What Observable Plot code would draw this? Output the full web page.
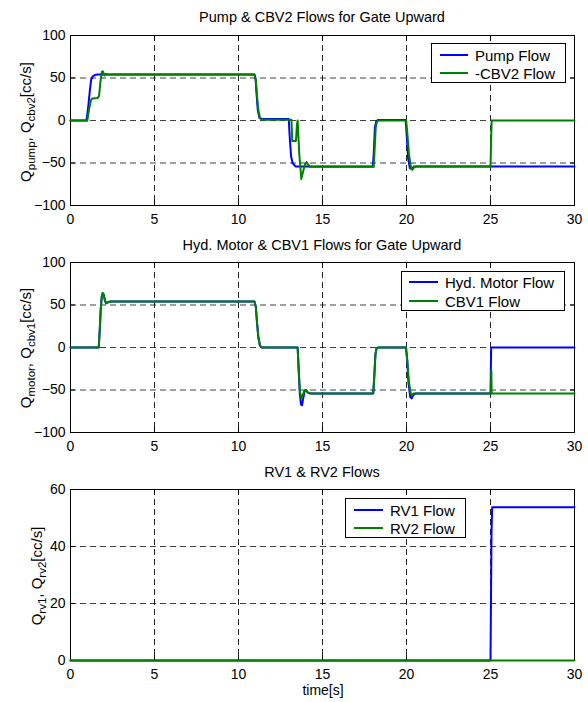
<!DOCTYPE html>
<html>
<head>
<meta charset="utf-8">
<script src="https://cdn.jsdelivr.net/npm/d3@7"></script>
<script src="https://cdn.jsdelivr.net/npm/@observablehq/plot@0.6"></script>
<style>
  html, body { margin: 0; padding: 0; background: #fff; }
  #chart { position: relative; width: 588px; height: 702px; font-family: "Liberation Sans", Arial, sans-serif; color: #000; }
  .panel { position: absolute; left: 0; }
  .title { position: absolute; font-size: 14.5px; white-space: nowrap; transform: translate(-50%, -50%); }
  .xlab { position: absolute; font-size: 14px; white-space: nowrap; transform: translate(-50%, -50%); }
  .ylab { position: absolute; font-size: 15px; white-space: nowrap; transform: translate(-50%, -50%) rotate(-90deg); }
  .ylab sub { font-size: 11.5px; vertical-align: -4px; line-height: 0; }
  .legend { position: absolute; border: 1px solid #000; background: #fff; box-sizing: border-box; }
  .legend .sw { position: absolute; height: 2px; }
  .legend .lt { position: absolute; font-size: 15px; white-space: nowrap; transform: translateY(-50%); }
</style>
</head>
<body>
<div id="chart"></div>
<script>
// ---------- data (time [s], flow [cc/s]) ----------
const xTicks = [0, 5, 10, 15, 20, 25, 30];
const yTicksFlow = [-100, -50, 0, 50, 100];
const yTicksRV = [0, 20, 40, 60];

const titles = ["Pump & CBV2 Flows for Gate Upward", "Hyd. Motor & CBV1 Flows for Gate Upward", "RV1 & RV2 Flows"];

const pumpFlow = [[0,0],[0.95,0],[1.05,15],[1.15,35],[1.23,48],[1.32,52],[1.45,53.5],[1.6,54],[10.95,54],[11.02,48],[11.08,30],[11.15,12],[11.25,3],[11.4,1.8],[12.99,1.8],[13.05,-20],[13.13,-42],[13.22,-50],[13.39,-54],[18.0,-54],[18.06,-35],[18.12,-8],[18.2,-1],[18.3,0.5],[19.95,0.5],[20.02,-20],[20.1,-45],[20.2,-56],[20.3,-57],[20.45,-54],[30,-54]];
const cbv2Flow = [[0,0],[1.0,0],[1.12,15],[1.22,24],[1.3,26],[1.62,26.5],[1.7,29],[1.78,45],[1.86,57],[1.92,58],[1.98,55],[2.03,53],[2.1,55],[2.2,54],[10.95,54],[11.03,48],[11.1,30],[11.18,12],[11.28,3],[11.4,1],[13.15,1],[13.2,-24],[13.42,-24],[13.48,-5],[13.52,0],[13.62,-40],[13.74,-69],[13.82,-62],[13.95,-52],[14.05,-49],[14.15,-52],[14.26,-54.5],[18.05,-54.5],[18.1,-35],[18.17,-8],[18.25,-1],[18.35,0],[19.98,0],[20.05,-15],[20.15,-40],[20.28,-57],[20.35,-58],[20.45,-55],[20.6,-54],[25.0,-54],[25.04,-20],[25.07,0],[30,0]];

const motorFlow = [[0,0],[1.68,0],[1.74,20],[1.8,45],[1.86,60],[1.92,64],[1.98,62],[2.04,56],[2.12,52],[2.25,53.5],[2.4,54],[10.95,54],[11.03,48],[11.1,30],[11.18,12],[11.28,2],[11.4,0],[13.52,0],[13.58,-25],[13.65,-55],[13.72,-67],[13.78,-68],[13.85,-60],[13.93,-52],[14.02,-50],[14.12,-53],[14.25,-54],[18.02,-54],[18.08,-35],[18.15,-8],[18.22,-1],[18.3,0],[19.97,0],[20.04,-15],[20.12,-42],[20.22,-58],[20.3,-60],[20.4,-56],[20.55,-54],[25.0,-54],[25.04,0],[30,0]];
const cbv1Flow = [[0,0],[1.68,0],[1.74,20],[1.8,45],[1.86,60],[1.92,64],[1.98,62],[2.04,56],[2.12,52],[2.25,53.5],[2.4,54],[10.95,54],[11.03,48],[11.1,30],[11.18,12],[11.28,2],[11.4,0],[13.52,0],[13.58,-25],[13.66,-52],[13.74,-60],[13.82,-56],[13.92,-51],[14.02,-50],[14.12,-53],[14.25,-54],[18.02,-54],[18.08,-35],[18.15,-8],[18.22,-1],[18.3,0],[19.97,0],[20.05,-15],[20.14,-40],[20.25,-54],[20.32,-56],[20.42,-54],[25.03,-54],[25.05,-27],[25.07,-54],[30,-54]];

const rv1Flow = [[0,0],[25.0,0],[25.06,45],[25.1,53.8],[30,53.8]];
const rv2Flow = [[0,0],[30,0]];

const seriesNames = [["Pump Flow", "-CBV2 Flow"], ["Hyd. Motor Flow", "CBV1 Flow"], ["RV1 Flow", "RV2 Flow"]];
const colors = ["#0000ff", "#008000"];

// ---------- drawing ----------
const chart = document.getElementById("chart");

function panel({a, b, yDomain, yTicks, top, height, marginTop, marginBottom}) {
  const gridY = yTicks.slice(1, -1);
  const gridX = xTicks.slice(1, -1);
  const svg = Plot.plot({
    width: 588, height,
    marginLeft: 70, marginRight: 14, marginTop, marginBottom,
    style: {fontFamily: "'Liberation Sans', Arial, sans-serif", fontSize: "14px", color: "#000", background: "transparent", overflow: "visible"},
    x: {domain: [0, 30], ticks: xTicks},
    y: {domain: yDomain, ticks: yTicks},
    marks: [
      Plot.gridX(gridX, {stroke: "#000", strokeOpacity: 0.85, strokeDasharray: "6,4"}),
      Plot.gridY(gridY, {stroke: "#000", strokeOpacity: 0.75, strokeDasharray: "6,4"}),
      Plot.frame({stroke: "#000", strokeWidth: 1}),
      Plot.axisX(xTicks, {anchor: "bottom", tickSize: -5, tickPadding: 14, label: null, stroke: "#000"}),
      Plot.axisX(xTicks, {anchor: "top", tickSize: -5, tickFormat: () => "", label: null, stroke: "#000"}),
      Plot.axisY(yTicks, {anchor: "left", tickSize: -5, tickPadding: 10, label: null, stroke: "#000"}),
      Plot.axisY(yTicks, {anchor: "right", tickSize: -5, tickFormat: () => "", label: null, stroke: "#000"}),
      Plot.line(a, {stroke: colors[0], strokeWidth: 2}),
      Plot.line(b, {stroke: colors[1], strokeWidth: 2})
    ]
  });
  svg.classList.add("panel");
  svg.style.top = top + "px";
  chart.appendChild(svg);
}

panel({a: pumpFlow, b: cbv2Flow, yDomain: [-100, 100], yTicks: yTicksFlow, top: 0, height: 228, marginTop: 35, marginBottom: 23});
panel({a: motorFlow, b: cbv1Flow, yDomain: [-100, 100], yTicks: yTicksFlow, top: 228, height: 228, marginTop: 34, marginBottom: 24});
panel({a: rv1Flow, b: rv2Flow, yDomain: [0, 60], yTicks: yTicksRV, top: 456, height: 246, marginTop: 33, marginBottom: 42});

function addDiv(cls, html, x, y) {
  const d = document.createElement("div");
  d.className = cls;
  d.innerHTML = html;
  d.style.left = x + "px";
  d.style.top = y + "px";
  chart.appendChild(d);
  return d;
}

addDiv("title", titles[0], 322, 17);
addDiv("title", titles[1], 322, 245);
addDiv("title", titles[2], 322, 472);
addDiv("xlab", "time[s]", 323, 690);

addDiv("ylab", "Q<sub>pump</sub>, Q<sub>cbv2</sub>[cc/s]", 25, 122);
addDiv("ylab", "Q<sub>motor</sub>, Q<sub>cbv1</sub>[cc/s]", 25, 348);
addDiv("ylab", "Q<sub>rv1</sub>, Q<sub>rv2</sub>[cc/s]", 36, 576);

function legend(names, left, top, w, h, rows, swX0, swX1, textX) {
  const box = document.createElement("div");
  box.className = "legend";
  Object.assign(box.style, {left: left + "px", top: top + "px", width: w + "px", height: h + "px"});
  names.forEach((n, i) => {
    const sw = document.createElement("div");
    sw.className = "sw";
    Object.assign(sw.style, {left: swX0 + "px", width: (swX1 - swX0) + "px", top: (rows[i] - 1) + "px", background: colors[i]});
    box.appendChild(sw);
    const t = document.createElement("div");
    t.className = "lt";
    t.textContent = n;
    Object.assign(t.style, {left: textX + "px", top: rows[i] + "px"});
    box.appendChild(t);
  });
  chart.appendChild(box);
}

legend(seriesNames[0], 431, 43, 135, 40, [11, 29], 8, 36, 43);
legend(seriesNames[1], 401, 271, 164, 40, [10, 29], 7, 36, 43);
legend(seriesNames[2], 345, 498, 121, 40, [11, 29], 8, 37, 44);
</script>
</body>
</html>
